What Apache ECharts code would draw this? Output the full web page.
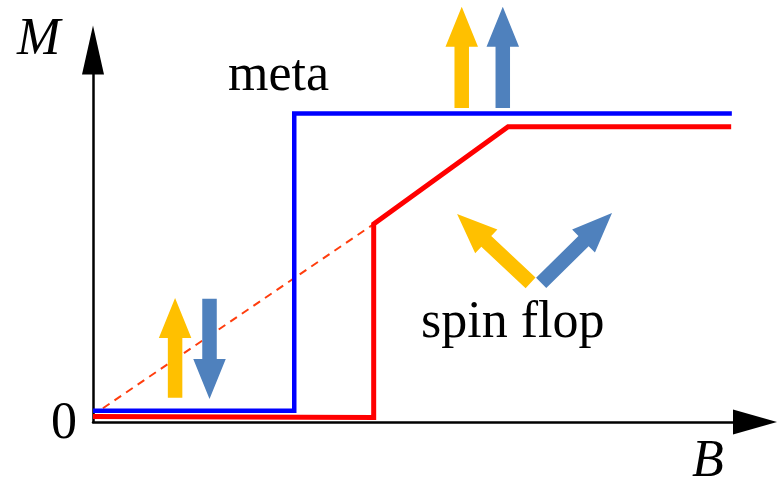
<!DOCTYPE html>
<html>
<head>
<meta charset="utf-8">
<title>Metamagnetic transition vs spin flop</title>
<script src="https://cdn.jsdelivr.net/npm/echarts@6/dist/echarts.min.js"></script>
<style>
  html, body { margin: 0; padding: 0; background: #ffffff; }
  #chart { width: 777px; height: 480px; }
</style>
</head>
<body>
<div id="chart"></div>
<script>
// Magnetization M versus applied field B (arbitrary units)
const fieldRange = [0, 10];
const magRange = [0, 10];

// Metamagnetic transition: abrupt jump to saturation
const metaCurve = [[0, 0.3], [3.04, 0.3], [3.04, 8.29], [9.65, 8.29]];
// Spin-flop transition: jump, then linear rise to saturation
const spinFlopCurve = [[0, 0.15], [4.24, 0.12], [4.24, 5.32], [6.27, 7.94], [9.64, 7.94]];
// Linear extrapolation of the spin-flop branch back to zero field
const spinFlopExtrapolation = [[0.15, 0.37], [4.24, 5.32]];

// Moment directions: [tailB, tailM, tipB, tipM]
const sublatticeA = [[1.24, 0.65, 1.24, 3.33], [5.57, 8.44, 5.57, 11.16], [6.61, 3.74, 5.50, 5.59]];
const sublatticeB = [[1.76, 3.31, 1.76, 0.62], [6.19, 8.44, 6.19, 11.16], [6.77, 3.74, 7.84, 5.62]];

// Text annotations
const axisTitleB = 'B';
const axisTitleM = 'M';
const originLabel = '0';
const metaLabel = 'meta';
const spinFlopLabel = 'spin flop';

const SERIF = '"Liberation Serif", "Times New Roman", serif';

function arrowRenderer(color) {
  return function (params, api) {
    const p0 = api.coord([api.value(0), api.value(1)]);
    const p1 = api.coord([api.value(2), api.value(3)]);
    const dx = p1[0] - p0[0], dy = p1[1] - p0[1];
    const len = Math.sqrt(dx * dx + dy * dy);
    const ux = dx / len, uy = dy / len;
    const nx = -uy, ny = ux;
    const shaft = 14.5 / 2, head = 32.5 / 2, headLen = 40;
    const neck = [p1[0] - ux * headLen, p1[1] - uy * headLen];
    const pts = [
      [p0[0] + nx * shaft, p0[1] + ny * shaft],
      [neck[0] + nx * shaft, neck[1] + ny * shaft],
      [neck[0] + nx * head, neck[1] + ny * head],
      p1,
      [neck[0] - nx * head, neck[1] - ny * head],
      [neck[0] - nx * shaft, neck[1] - ny * shaft],
      [p0[0] - nx * shaft, p0[1] - ny * shaft]
    ];
    return {
      type: 'polygon',
      shape: { points: pts },
      style: { fill: color, stroke: null }
    };
  };
}

const chart = echarts.init(document.getElementById('chart'), null, { renderer: 'canvas' });

chart.setOption({
  animation: false,
  backgroundColor: '#ffffff',
  grid: { left: 93, right: 22, top: 50, bottom: 58, containLabel: false },
  xAxis: {
    type: 'value',
    min: fieldRange[0],
    max: fieldRange[1],
    axisLine: {
      onZero: false,
      symbol: ['none', 'triangle'],
      symbolSize: [25, 44],
      lineStyle: { color: '#000000', width: 2.5 }
    },
    axisTick: { show: false },
    axisLabel: { show: false },
    splitLine: { show: false }
  },
  yAxis: {
    type: 'value',
    min: magRange[0],
    max: magRange[1],
    axisLine: {
      show: true,
      onZero: false,
      symbol: ['none', 'triangle'],
      symbolSize: [22, 49],
      lineStyle: { color: '#000000', width: 2.5 }
    },
    axisTick: { show: false },
    axisLabel: { show: false },
    splitLine: { show: false }
  },
  series: [
    {
      type: 'line',
      data: spinFlopExtrapolation,
      showSymbol: false,
      lineStyle: { color: '#ff3d0d', width: 2, type: [8, 6] },
      z: 1
    },
    {
      type: 'line',
      data: metaCurve,
      showSymbol: false,
      lineStyle: { color: '#0000ff', width: 4.5, join: 'miter', cap: 'butt' },
      z: 2
    },
    {
      type: 'line',
      data: spinFlopCurve,
      showSymbol: false,
      lineStyle: { color: '#ff0000', width: 5, join: 'miter', cap: 'butt' },
      z: 3
    },
    {
      type: 'custom',
      data: sublatticeA,
      renderItem: arrowRenderer('#ffc000'),
      clip: false,
      z: 4
    },
    {
      type: 'custom',
      data: sublatticeB,
      renderItem: arrowRenderer('#4f81bd'),
      clip: false,
      z: 4
    }
  ],
  graphic: [
    { type: 'text', left: 17, top: 14, style: { text: axisTitleM, font: 'italic 52px ' + SERIF, fill: '#000' } },
    { type: 'text', left: 692, top: 436, style: { text: axisTitleB, font: 'italic 52px ' + SERIF, fill: '#000' } },
    { type: 'text', left: 51, top: 398, style: { text: originLabel, font: '52px ' + SERIF, fill: '#000' } },
    { type: 'text', left: 228, top: 50, style: { text: metaLabel, font: '52px ' + SERIF, fill: '#000' } },
    { type: 'text', left: 421, top: 297, style: { text: spinFlopLabel, font: '52px ' + SERIF, fill: '#000' } }
  ]
});
</script>
</body>
</html>
